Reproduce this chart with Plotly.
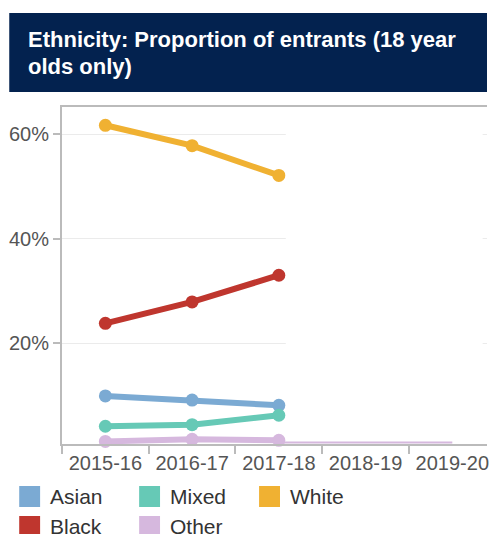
import plotly.graph_objects as go

# Academic years on the x axis
years = ["2015-16", "2016-17", "2017-18", "2018-19", "2019-20"]

# Share of 18-year-old entrants by ethnic group (%), years reported so far
asian = [9.9, 9.1, 8.1]
black = [23.8, 27.9, 33.0]
mixed = [4.1, 4.4, 6.2]
other = [1.2, 1.6, 1.4]
white = [61.7, 57.8, 52.1]
other_trail = [1.0, 1.0, 1.0]  # faint Other trail running into later years

series_names = ["Asian", "Black", "Mixed", "Other", "White"]
series_values = [asian, black, mixed, other, white]
series_colors = ["#7BAAD3", "#BF362E", "#66C9B6", "#D6B8DE", "#F0B132"]

y_ticks = [20, 40, 60]
y_tick_labels = ["20%", "40%", "60%"]

W, H = 489, 534
ML, MR, MT, MB = 62, 0, 107, 90
PW, PH = W - ML - MR, H - MT - MB


def px(x):
    return (x - ML) / PW


def py(y):
    return (H - MB - y) / PH


fig = go.Figure()

for name, vals, col in zip(series_names, series_values, series_colors):
    fig.add_trace(go.Scatter(
        x=years[:len(vals)], y=vals, name=name, mode="lines+markers",
        line=dict(color=col, width=6), marker=dict(color=col, size=13),
        cliponaxis=False, showlegend=False, hoverinfo="skip",
    ))

fig.add_trace(go.Scatter(
    x=years[2:], y=other_trail, mode="lines",
    line=dict(color=series_colors[3], width=2),
    showlegend=False, hoverinfo="skip",
))

shapes = []
annotations = []

# Panel covering the not-yet-revealed part of the plot
shapes.append(dict(type="rect", xref="x", yref="y", x0=2.08, x1=4.35, y0=1.3, y1=64.7,
                   fillcolor="white", line=dict(width=0), layer="above"))

# Header band
shapes.append(dict(type="rect", xref="paper", yref="paper", x0=px(9), x1=px(489),
                   y0=py(92), y1=py(13), fillcolor="#03224F", line=dict(width=0),
                   layer="below"))
for txt, yc in [("Ethnicity: Proportion of entrants (18 year", 40), ("olds only)", 67)]:
    annotations.append(dict(text=txt, xref="paper", yref="paper", x=px(26), y=py(yc),
                            xanchor="left", yanchor="middle", showarrow=False,
                            font=dict(family="Liberation Sans, Arial", size=22,
                                      color="white", weight="bold")))

# Legend: swatches in column-major order, three columns
for i, (name, col) in enumerate(zip(series_names, series_colors)):
    c, r = divmod(i, 2)
    sx = 19 + c * 120.5
    sy = 486 + r * 30
    shapes.append(dict(type="rect", xref="paper", yref="paper", x0=px(sx), x1=px(sx + 21),
                       y0=py(sy + 21), y1=py(sy), fillcolor=col, line=dict(width=0)))
    annotations.append(dict(text=name, xref="paper", yref="paper", x=px(sx + 29),
                            y=py(sy + 10.5), xanchor="left", yanchor="middle",
                            showarrow=False,
                            font=dict(family="Liberation Sans, Arial", size=21,
                                      color="#333333")))

fig.update_layout(
    width=W, height=H,
    margin=dict(l=ML, r=MR, t=MT, b=MB),
    paper_bgcolor="white", plot_bgcolor="white",
    shapes=shapes, annotations=annotations,
    font=dict(family="Liberation Sans, Arial", color="#555555"),
    xaxis=dict(
        type="category", categoryorder="array", categoryarray=years,
        range=[-0.5, 4.4], tickson="boundaries", ticks="outside", ticklen=8,
        tickcolor="#BBBBBB", tickwidth=1.5, showgrid=False, showline=True,
        linecolor="#BBBBBB", linewidth=2, mirror=True,
        tickfont=dict(size=20, color="#555555"), fixedrange=True,
    ),
    yaxis=dict(
        range=[0.7, 65.2], tickmode="array", tickvals=y_ticks, ticktext=y_tick_labels,
        ticks="outside", ticklen=7, tickcolor="#BBBBBB", tickwidth=1.5, showgrid=True,
        gridcolor="#EBEBEB", gridwidth=1, showline=True, linecolor="#BBBBBB",
        linewidth=2, zeroline=False, tickfont=dict(size=20, color="#555555"),
        fixedrange=True,
    ),
)

fig.write_html("out.html", config={"displayModeBar": False})
